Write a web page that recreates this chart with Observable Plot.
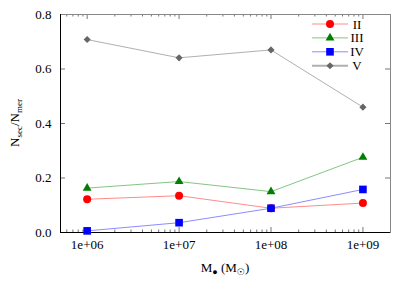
<!DOCTYPE html>
<html><head><meta charset="utf-8">
<script src="https://cdn.jsdelivr.net/npm/d3@7"></script>
<script src="https://cdn.jsdelivr.net/npm/@observablehq/plot@0.6"></script>
<style>body{margin:0;background:#fff}</style>
</head><body><div id="chart"></div>
<script>
const masses = [1e6, 1e7, 1e8, 1e9];
const seriesNames = ["II", "III", "IV", "V"];
const valII = [0.122, 0.135, 0.089, 0.108];
const valIII = [0.163, 0.187, 0.150, 0.276];
const valIV = [0.006, 0.036, 0.089, 0.158];
const valV = [0.708, 0.641, 0.670, 0.460];
const yTicks = [0, 0.2, 0.4, 0.6, 0.8];
const xTicks = [1e6, 1e7, 1e8, 1e9];
const xTickLabels = ["1e+06", "1e+07", "1e+08", "1e+09"];

const styles = {
  II: {line: "#ff8c8c", fill: "#ff0000", symbol: "circle", r: 4},
  III: {line: "#86c486", fill: "#007f00", symbol: "triangle", r: 3.3},
  IV: {line: "#8c8cff", fill: "#0000ff", symbol: "square", r: 4.3},
  V: {line: "#b0b0b0", fill: "#666666", symbol: "diamond2", r: 3.2}
};
const vals = {II: valII, III: valIII, IV: valIV, V: valV};
const data = seriesNames.flatMap(s => masses.map((m, i) => ({s, m, v: vals[s][i]})));
const xLabelData = xTicks.map((x, i) => ({x, label: xTickLabels[i]}));

const xDomain = [Math.pow(10, 5.71), Math.pow(10, 9.3)];
const minor = [];
for (let e = 5; e <= 9; e++) for (let k = 2; k <= 9; k++) {
  const v = k * Math.pow(10, e);
  if (v > xDomain[0] && v < xDomain[1]) minor.push(v);
}
const PH = 218, PW = 330;
const font = "Liberation Serif, Times New Roman, serif";

const marks = [];
marks.push(Plot.tickX(xTicks, {x: d => d, stroke: "#777", insetTop: PH - 5}));
marks.push(Plot.tickX(xTicks, {x: d => d, stroke: "#777", insetBottom: PH - 5}));
marks.push(Plot.tickX(minor, {x: d => d, stroke: "#777", insetTop: PH - 2.5}));
marks.push(Plot.tickX(minor, {x: d => d, stroke: "#777", insetBottom: PH - 2.5}));
marks.push(Plot.tickY(yTicks, {y: d => d, stroke: "#777", insetRight: PW - 5}));
marks.push(Plot.tickY(yTicks, {y: d => d, stroke: "#777", insetLeft: PW - 5}));
marks.push(Plot.frame({stroke: "#888"}));
marks.push(Plot.text(xLabelData, {x: "x", text: "label", frameAnchor: "bottom", dy: 16, fontSize: 13, fill: "#000"}));
marks.push(Plot.text(yTicks, {y: d => d, text: d => d3.format(".1f")(d), frameAnchor: "left", textAnchor: "end", dx: -9, fontSize: 13, fill: "#000"}));
marks.push(Plot.ruleX([xDomain[0]], {stroke: "#000"}));
marks.push(Plot.ruleY([0], {stroke: "#000"}));
for (const s of seriesNames) {
  const st = styles[s];
  marks.push(Plot.line(data.filter(r => r.s === s), {x: "m", y: "v", stroke: st.line, strokeWidth: 1}));
}
for (const s of seriesNames) {
  const st = styles[s];
  marks.push(Plot.dot(data.filter(r => r.s === s), {x: "m", y: "v", symbol: () => st.symbol, fill: st.fill, stroke: "none", r: st.r}));
}

const plot = Plot.plot({
  width: 415, height: 291,
  marginLeft: 60, marginRight: 25, marginTop: 14, marginBottom: 59,
  style: {fontFamily: font, fontSize: "13px", background: "#fff", color: "#000"},
  x: {type: "log", domain: xDomain, axis: null},
  y: {domain: [0, 0.8], axis: null},
  symbol: {type: "identity"},
  marks
});
document.getElementById("chart").appendChild(plot);

const svg = d3.select(plot);
const lg = svg.append("g").attr("font-family", font).attr("font-size", 13);
const symMap = {circle: d3.symbolCircle, triangle: d3.symbolTriangle, square: d3.symbolSquare, diamond2: d3.symbolDiamond2};
seriesNames.forEach((s, i) => {
  const st = styles[s];
  const y = 24 + i * 13.9;
  lg.append("line").attr("x1", 312).attr("x2", 348).attr("y1", y).attr("y2", y).attr("stroke", st.line).attr("stroke-width", s === "V" ? 2 : 1);
  lg.append("path").attr("d", d3.symbol(symMap[st.symbol], Math.PI * st.r * st.r)()).attr("transform", `translate(330,${y})`).attr("fill", st.fill);
  lg.append("text").attr("x", 357).attr("y", y + 4.5).text(s);
});
const xl = svg.append("text").attr("x", 225).attr("y", 272).attr("text-anchor", "middle").attr("font-family", font).attr("font-size", 13);
xl.append("tspan").text("M");
xl.append("tspan").attr("font-size", 9).attr("dy", 3).text("\u25CF");
xl.append("tspan").attr("dy", -3).text(" (M");
xl.append("tspan").attr("font-size", 9).attr("dy", 3).attr("font-family", "DejaVu Sans").text("\u2609");
xl.append("tspan").attr("dy", -3).text(")");
const yl = svg.append("text").attr("transform", "translate(19,123) rotate(-90)").attr("text-anchor", "middle").attr("font-family", font).attr("font-size", 13);
yl.append("tspan").text("N");
yl.append("tspan").attr("font-size", 9).attr("dy", 3).text("sec");
yl.append("tspan").attr("dy", -3).text("/N");
yl.append("tspan").attr("font-size", 9).attr("dy", 3).text("mer");
</script>
</body></html>
